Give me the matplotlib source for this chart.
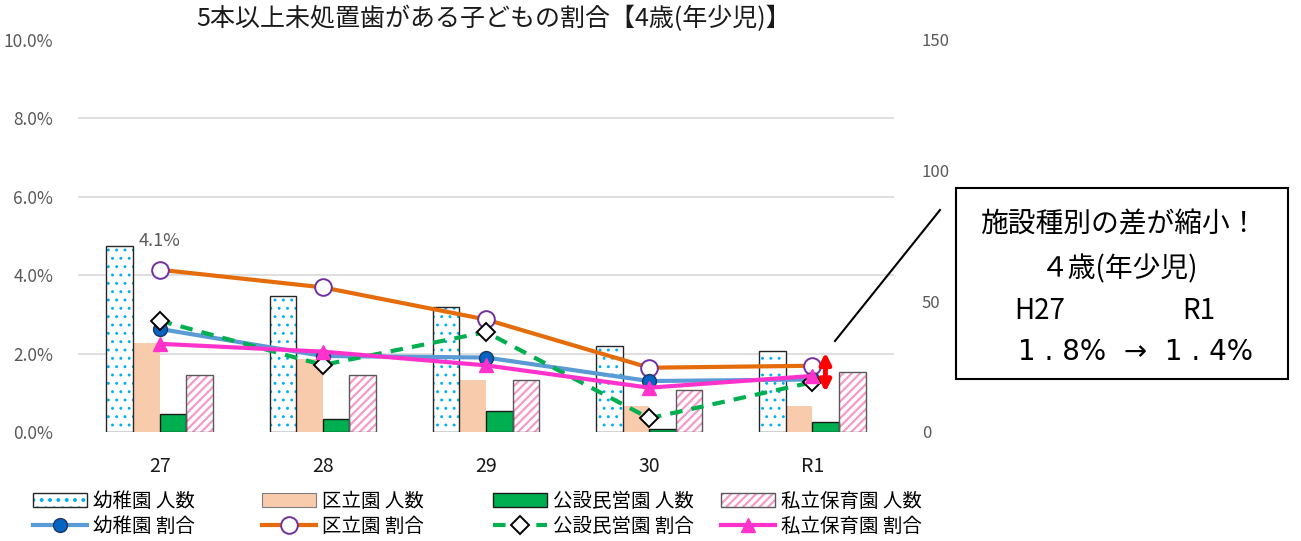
import matplotlib
matplotlib.use('Agg')
import matplotlib.pyplot as plt
from matplotlib.patches import Patch, Rectangle
from matplotlib.lines import Line2D
from matplotlib.legend_handler import HandlerTuple
import numpy as np

plt.rcParams['font.family'] = ['Noto Sans CJK JP', 'DejaVu Sans']
plt.rcParams['hatch.linewidth'] = 1.6

# ---- data ----
categories = ['27', '28', '29', '30', 'R1']
series_count_names = ['幼稚園 人数', '区立園 人数', '公設民営園 人数', '私立保育園 人数']
series_rate_names = ['幼稚園 割合', '区立園 割合', '公設民営園 割合', '私立保育園 割合']
count_kinder = [71, 52, 48, 33, 31]
count_public = [34, 28, 20, 10, 10]
count_pubpriv = [7, 5, 8, 1, 4]
count_private = [22, 22, 20, 16, 23]
rate_kinder = [2.63, 1.94, 1.90, 1.30, 1.34]
rate_public = [4.14, 3.69, 2.87, 1.64, 1.69]
rate_pubpriv = [2.84, 1.71, 2.55, 0.35, 1.27]
rate_private = [2.25, 2.05, 1.70, 1.13, 1.43]
left_ticks = [0, 2, 4, 6, 8, 10]
right_ticks = [0, 50, 100, 150]
title = '5本以上未処置歯がある子どもの割合【4歳(年少児)】'
callout_lines = ['施設種別の差が縮小！', '４歳(年少児)', 'H27', 'R1', '1 . 8%  →  1 . 4%']

W, H = 1301, 541
fig = plt.figure(figsize=(W / 100, H / 100), dpi=100)

def fx(x):
    return x / W

def fy(y):
    return 1 - y / H

ax = fig.add_axes([fx(78), fy(432), fx(894) - fx(78), fy(40) - fy(432)])
ax2 = ax.twinx()

x = np.arange(len(categories))
bw = 0.163
offs = np.array([-1.5, -0.5, 0.5, 1.5]) * bw

GRAY_TXT = '#595959'
CYAN = '#00B0F0'
PINK_H = '#F59ACB'

# bars (count axis)
with plt.rc_context({'hatch.linewidth': 0.9}):
    b1h = ax.bar(x + offs[0], count_kinder, bw, facecolor='white', edgecolor=CYAN, linewidth=0, hatch='..', zorder=2)
    pk_h = Patch(facecolor='white', edgecolor=CYAN, hatch='..', lw=0)
b1e = ax.bar(x + offs[0], count_kinder, bw, facecolor='none', edgecolor='#262626', linewidth=1.0, zorder=3)
b2 = ax.bar(x + offs[1], count_public, bw, facecolor='#F8CBAD', edgecolor='none', linewidth=0, zorder=2)
b3 = ax.bar(x + offs[2], count_pubpriv, bw, facecolor='#00B050', edgecolor='#1a1a1a', linewidth=1.0, zorder=3)
b4h = ax.bar(x + offs[3], count_private, bw, facecolor='white', edgecolor=PINK_H, linewidth=0, hatch='////', zorder=2)
b4e = ax.bar(x + offs[3], count_private, bw, facecolor='none', edgecolor='#595959', linewidth=1.0, zorder=3)

ax.set_ylim(0, 150)
ax.set_xlim(-0.5, len(categories) - 0.5)
ax.set_yticks(right_ticks)
ax.set_yticks([0, 30, 60, 90, 120, 150], minor=True)
ax.yaxis.tick_right()
ax.grid(which='minor', axis='y', color='#D9D9D9', linewidth=1.2, zorder=0)
ax.grid(which='major', visible=False)
ax.tick_params(axis='y', which='both', length=0, labelsize=12, labelcolor=GRAY_TXT, pad=20)
ax.set_axisbelow(True)
ax.set_xticks(x)
ax.set_xticklabels(categories)
ax.tick_params(axis='x', length=0, labelsize=14, labelcolor='#1a1a1a', pad=17)
for s in ax.spines.values():
    s.set_visible(False)

# lines (rate axis)
l1, = ax2.plot(x, rate_kinder, color='#5B9BD5', lw=3, marker='o', ms=10,
               mfc='#0563C1', mec='#1F3864', mew=1.0, zorder=5)
l2, = ax2.plot(x, rate_public, color='#E46C0A', lw=3, marker='o', ms=12,
               mfc='white', mec='#7030A0', mew=1.4, zorder=4)
l3, = ax2.plot(x, rate_pubpriv, color='#00B050', lw=3, ls=(0, (3, 2.2)), marker='D', ms=9,
               mfc='white', mec='black', mew=1.4, zorder=6)
l4, = ax2.plot(x, rate_private, color='#FF33CC', lw=3, marker='^', ms=10,
               mfc='#FF33CC', mec='#FF33CC', zorder=7)
ax2.set_ylim(0, 10)
ax2.set_yticks(left_ticks)
ax2.set_yticklabels([f'{v:.1f}%' for v in left_ticks])
ax2.yaxis.tick_left()
ax2.tick_params(axis='y', length=0, labelsize=12.5, labelcolor=GRAY_TXT, pad=18)
for s in ax2.spines.values():
    s.set_visible(False)

ax2.annotate(f'{rate_public[0]:.1f}%', (x[0], rate_public[0]), xytext=(0, 14),
             textcoords='offset points', ha='center', va='bottom', fontsize=13, color=GRAY_TXT)

# red double arrow at R1
ax2.annotate('', xy=(x[-1] + 0.08, 1.02), xytext=(x[-1] + 0.08, 2.03),
             arrowprops=dict(arrowstyle='<|-|>', color='#FF0000', lw=3.5, mutation_scale=16,
                             shrinkA=0, shrinkB=0), zorder=8)

# title
fig.text(fx(494), fy(19), title, ha='center', va='center', fontsize=18, color='#1a1a1a')

# callout
fig.add_artist(Line2D([fx(835), fx(940)], [fy(341), fy(210)], color='black', lw=1.5))
fig.add_artist(Rectangle((fx(956), fy(379)), fx(1288) - fx(956), fy(188) - fy(379),
                         fill=False, edgecolor='black', lw=1.5, transform=fig.transFigure))
cfs = 20
fig.text(fx(1119), fy(224), callout_lines[0], ha='center', va='center', fontsize=cfs)
fig.text(fx(1120), fy(269), callout_lines[1], ha='center', va='center', fontsize=cfs)
fig.text(fx(1040), fy(311), callout_lines[2], ha='center', va='center', fontsize=cfs)
fig.text(fx(1199), fy(311), callout_lines[3], ha='center', va='center', fontsize=cfs)
fig.text(fx(1136), fy(352), callout_lines[4], ha='center', va='center', fontsize=20,
         family='DejaVu Sans')

# legends: 4 columns, each with count + rate
pk = (pk_h, Patch(facecolor='none', edgecolor='#262626', lw=1.0))
pp = Patch(facecolor='#F8CBAD', edgecolor='#7f7f7f', lw=0.8)
pg = Patch(facecolor='#00B050', edgecolor='#1a1a1a', lw=1.0)
pr = (Patch(facecolor='white', edgecolor=PINK_H, hatch='////', lw=0),
      Patch(facecolor='none', edgecolor='#595959', lw=1.0))
handles = [(pk, l1), (pp, l2), (pg, l3), (pr, l4)]
col_x = [33, 262, 493, 721]
for i, (hb, hl) in enumerate(handles):
    fig.legend([hb, hl], [series_count_names[i], series_rate_names[i]],
               loc='upper left', bbox_to_anchor=(fx(col_x[i]), fy(491)),
               frameon=False, fontsize=14, handlelength=2.8, handletextpad=0.3,
               borderpad=0, borderaxespad=0, labelspacing=0.22,
               handler_map={tuple: HandlerTuple(ndivide=1)})

fig.savefig('out.png', dpi=100)
